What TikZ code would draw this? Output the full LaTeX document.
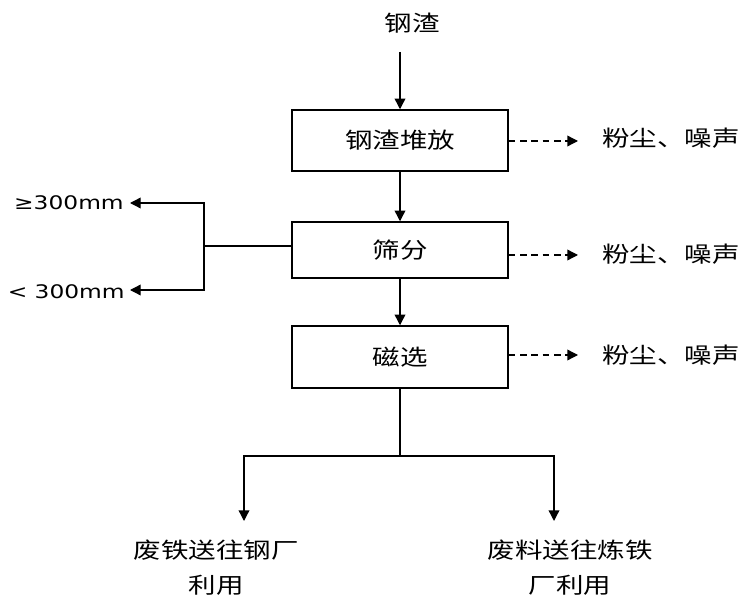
\documentclass[tikz,border=0pt]{standalone}
\usepackage{fontspec}
\newfontfamily\cjk[FakeStretch=1.25]{Noto Sans CJK SC}
\newfontfamily\latinf[FakeStretch=1.25]{DejaVu Sans}
\usetikzlibrary{arrows.meta}
\begin{document}
\begin{tikzpicture}[x=0.75pt,y=-0.75pt,
  cjktext/.style={font=\cjk\fontsize{16.5}{26.25}\selectfont, inner sep=0pt, align=center},
  lattext/.style={font=\latinf\fontsize{14}{16}\selectfont, inner sep=0pt},
  procbox/.style={draw, line width=1.1pt, minimum width=162pt, inner sep=0pt, cjktext},
  line/.style={line width=1pt},
  arr/.style={line width=1pt, -{Triangle[length=8pt,width=8pt]}},
  darr/.style={line width=1pt, dash pattern=on 5pt off 3.5pt, -{Triangle[length=8pt,width=8pt]}}]
\useasboundingbox (0,0) rectangle (742,598);
% top input
\node[cjktext] (in) at (412,23) {钢渣};
\coordinate (t0) at (400,52);
% process boxes
\node[procbox, minimum height=45.75pt] (b1) at (400,140.5) {钢渣堆放};
\node[procbox, minimum height=42pt] (b2) at (400,250) {筛分};
\node[procbox, minimum height=46.5pt] (b3) at (400,357) {磁选};
\draw[arr] (t0) -- (b1.north);
\draw[arr] (b1.south) -- (b2.north);
\draw[arr] (b2.south) -- (b3.north);
% emissions
\coordinate (e1) at (578,141);
\coordinate (e2) at (578,255);
\coordinate (e3) at (578,355);
\draw[darr] (b1.east |- e1) -- (e1);
\draw[darr] (b2.east |- e2) -- (e2);
\draw[darr] (b3.east |- e3) -- (e3);
\node[cjktext, anchor=west] (d1) at (602,138) {粉尘、噪声};
\node[cjktext, anchor=west] (d2) at (602,254) {粉尘、噪声};
\node[cjktext, anchor=west] (d3) at (602,355) {粉尘、噪声};
% screening outputs
\coordinate (sj) at (204,246);
\coordinate (g1) at (130,203);
\coordinate (g2) at (130,290);
\draw[line] (b2.west |- sj) -- (sj);
\draw[arr] (sj) |- (g1);
\draw[arr] (sj) |- (g2);
\node[lattext, anchor=east] (s1) at (124,203) {≥300mm};
\node[lattext, anchor=east] (s2) at (125,292) {< 300mm};
% magnetic separation outputs
\coordinate (m) at (400,456);
\coordinate (l) at (244,521);
\coordinate (r) at (554,521);
\draw[line] (b3.south) -- (m);
\draw[arr] (m) -| (l);
\draw[arr] (m) -| (r);
\node[cjktext] (o1) at (216,567.5) {废铁送往钢厂\\利用};
\node[cjktext] (o2) at (570,567.5) {废料送往炼铁\\厂利用};
\end{tikzpicture}
\end{document}
